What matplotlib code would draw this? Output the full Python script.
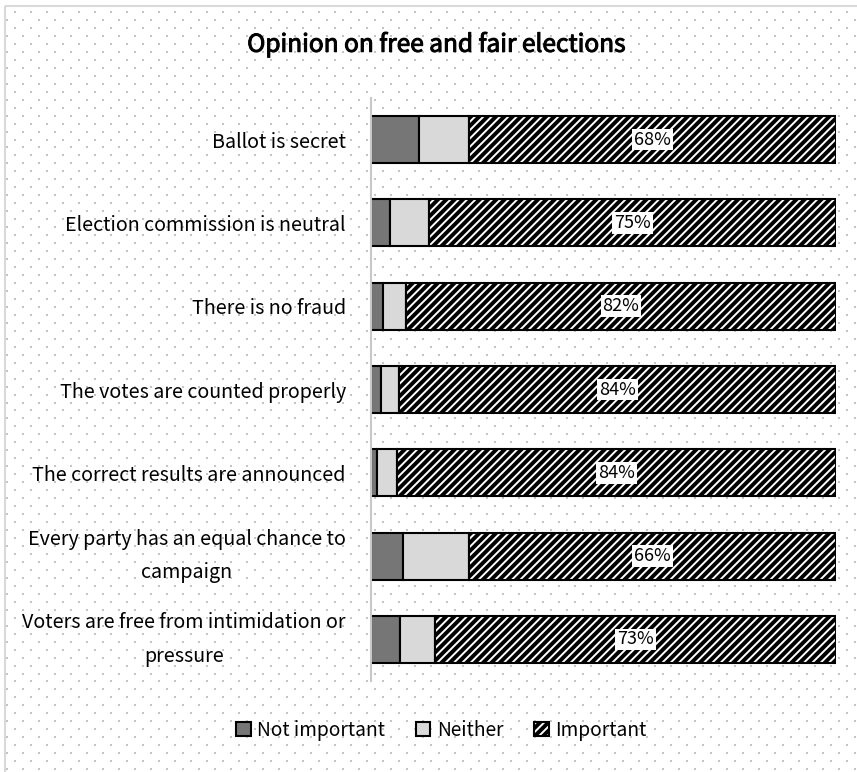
import numpy as np
import matplotlib
matplotlib.use('Agg')
import matplotlib.pyplot as plt
import matplotlib.patheffects as pe
from matplotlib.patches import Patch, Rectangle
from matplotlib.legend_handler import HandlerTuple

plt.rcParams['font.family'] = ['Noto Sans CJK KR', 'DejaVu Sans']
plt.rcParams['hatch.linewidth'] = 1.4

# Opiniones por aspecto (porcentajes de la encuesta)
aspectos = ['Ballot is secret',
            'Election commission is neutral',
            'There is no fraud',
            'The votes are counted properly',
            'The correct results are announced',
            'Every party has an equal chance to\ncampaign',
            'Voters are free from intimidation or\npressure']
no_importante = [8.9, 3.5, 2.3, 1.9, 1.1, 5.8, 5.3]
ninguno = [9.3, 7.2, 4.4, 3.5, 3.8, 11.9, 6.4]
importante = [68, 75, 82, 84, 84, 66, 73]

ni = np.array(no_importante)
ne = np.array(ninguno)
im = np.array(importante, dtype=float)
total = ni + ne + im

fig = plt.figure(figsize=(8.57, 7.72), dpi=100)

# Fondo punteado y marco
fondo = fig.add_axes([0, 0, 1, 1], zorder=-1)
fondo.set_xlim(0, 857)
fondo.set_ylim(772, 0)
fondo.axis('off')
filas = np.arange(12, 772, 7.97)
px, py = [], []
for j, yy in enumerate(filas):
    xs = np.arange(15 if j % 2 == 0 else 7, 857, 16)
    px.extend(xs)
    py.extend([yy] * len(xs))
fondo.scatter(px, py, s=1.6, marker='s', color='#c4c4c4', linewidths=0)
fondo.add_patch(Rectangle((5.5, 5.5), 900, 900, fill=False, ec='#d9d9d9', lw=1.5))

ax = fig.add_axes([0.4329, 0.1179, 0.5426, 0.7551])
ax.set_facecolor('none')
y = np.arange(len(aspectos))
alto = 0.565

ax.barh(y, ni / total, height=alto, color='#767676', edgecolor='black', linewidth=1.5)
ax.barh(y, ne / total, left=ni / total, height=alto, color='#d9d9d9', edgecolor='black', linewidth=1.5)
izq = (ni + ne) / total
ax.barh(y, im / total, left=izq, height=alto, color='black', edgecolor='white', hatch='////', linewidth=0)
ax.barh(y, im / total, left=izq, height=alto, fill=False, edgecolor='black', linewidth=1.5)

for yi, l, w, v in zip(y, izq, im / total, importante):
    ax.text(l + w / 2, yi, f'{v}%', ha='center', va='center', fontsize=13,
            bbox=dict(boxstyle='square,pad=0.1', fc='white', ec='none'))

ax.set_xlim(0, 1)
ax.set_ylim(len(aspectos) - 0.5, -0.5)
ax.set_yticks(y)
ax.set_yticklabels([])
# etiquetas de categoría alineadas a la derecha, centradas si ocupan dos líneas
for yi, nombre in zip(y, aspectos):
    ax.text(-0.054, yi, nombre, transform=ax.get_yaxis_transform(), fontsize=14.2,
            ha='right', va='center' if '\n' in nombre else 'center_baseline',
            multialignment='center', linespacing=1.8)
ax.tick_params(axis='y', length=0)
ax.set_xticks([])
for s in ['top', 'right', 'bottom']:
    ax.spines[s].set_visible(False)
ax.spines['left'].set_color('#c8c8c8')
ax.spines['left'].set_linewidth(1.5)

fig.text(0.509, 0.942, 'Opinion on free and fair elections', ha='center', va='center',
         fontsize=17.6, path_effects=[pe.withStroke(linewidth=0.7, foreground='black')])

h_imp = (Patch(fc='black', ec='white', hatch='////', lw=0), Patch(fill=False, ec='black', lw=1.5))
handles = [Patch(fc='#767676', ec='black', lw=1.5), Patch(fc='#d9d9d9', ec='black', lw=1.5), h_imp]
fig.legend(handles, ['Not important', 'Neither', 'Important'], loc='center', bbox_to_anchor=(0.515, 0.054),
           ncol=3, frameon=False, fontsize=13.8, handlelength=0.75, handleheight=0.75, handletextpad=0.35,
           columnspacing=1.6, handler_map={tuple: HandlerTuple(ndivide=1, pad=0)})

fig.savefig('out.png', dpi=100)
